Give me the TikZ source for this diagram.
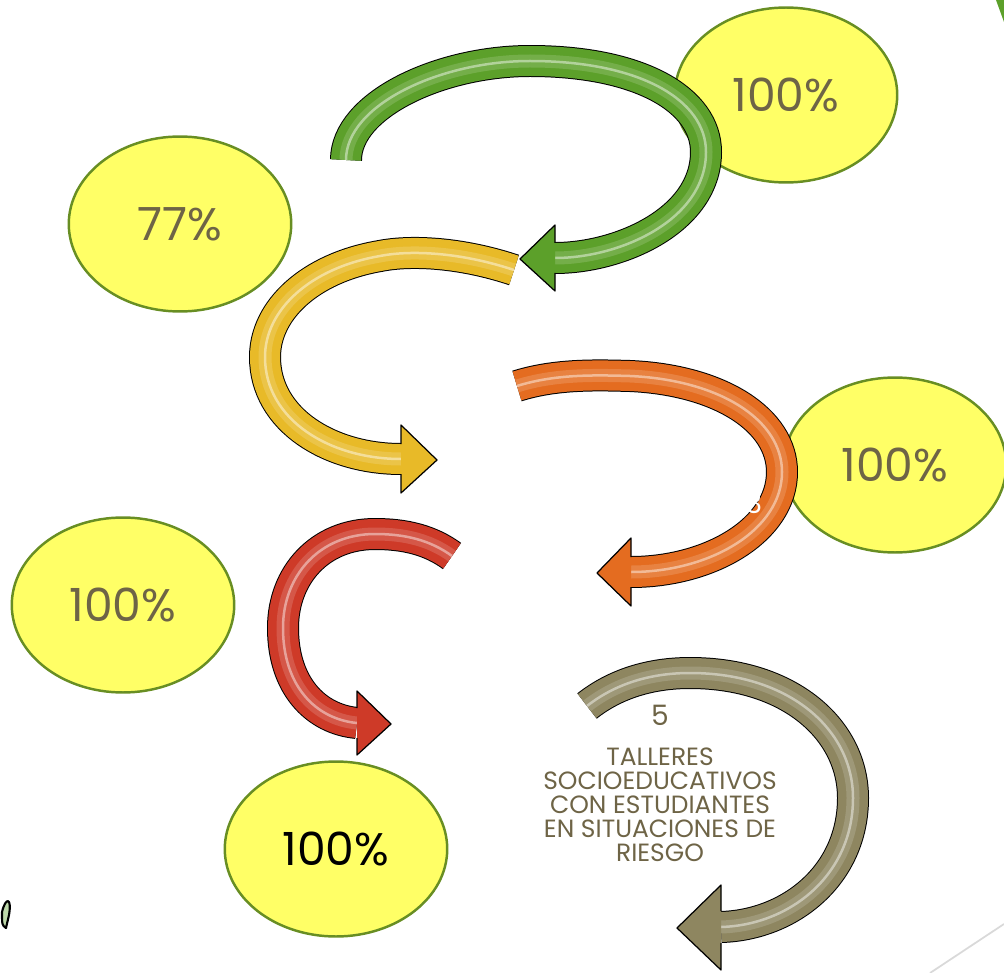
\documentclass[tikz,border=0pt]{standalone}
\usepackage{fontspec}
\setmainfont{Poppins}
\usepackage{tikz}
\usepackage{xcolor}
\usetikzlibrary{shapes.geometric}

\definecolor{pctfill}{RGB}{255,255,102}
\definecolor{pctrim}{RGB}{104,142,35}
\definecolor{pcttext}{RGB}{110,100,70}
\definecolor{arrgreen}{RGB}{92,160,42}
\definecolor{arryellow}{RGB}{232,186,40}
\definecolor{arrorange}{RGB}{228,108,32}
\definecolor{arrred}{RGB}{206,58,40}
\definecolor{arrolive}{RGB}{142,134,96}

\begin{document}
\begin{tikzpicture}[x=0.02cm, y=-0.02cm, line join=round,
	pct/.style={ellipse, draw=pctrim, line width=1.4pt, fill=pctfill, minimum width=4.45cm, minimum height=3.5cm, inner sep=0pt, text=pcttext, font=\fontsize{26}{30}\selectfont},
	band/.style={draw=#1, line width=0.6cm, preaction={draw=black, line width=0.64cm}, postaction={draw=#1!75!white, line width=0.26cm, opacity=0.6}, postaction={draw=white, line width=0.05cm, opacity=0.45}},
	head/.style={fill=#1, draw=black, line width=0.7pt}]
	\useasboundingbox (0,0) rectangle (1004,973);
		% percentages
		\node [pct] (e1) at (786,95) {100\%};
		\node [pct] (e2) at (180,224) {77\%};
		\node [pct] (e3) at (895,465) {100\%};
		\node [pct] (e4) at (123,605) {100\%};
		\node [pct, text=black] (e5) at (336,849) {100\%};
		% green
		\coordinate (1) at (346,160);
		\coordinate (2) at (555,258);
		\draw [band=arrgreen] (1) .. controls (346,105) and (440,61) .. (530,61) .. controls (640,61) and (706,100) .. (706,152) .. controls (706,220) and (620,258) .. (2);
		\filldraw [head=arrgreen] (555,243) -- (555,225) -- (520,259) -- (555,291) -- (555,273);
		% yellow
		\coordinate (3) at (514,270);
		\coordinate (4) at (401,459);
		\draw [band=arryellow] (3) .. controls (460,252) and (410,250) .. (380,256) .. controls (310,268) and (265,310) .. (265,357) .. controls (265,420) and (330,459) .. (4);
		\filldraw [head=arryellow] (401,444) -- (401,425) -- (437,460) -- (401,493) -- (401,474);
		% orange
		\coordinate (5) at (517,386);
		\coordinate (6) at (631,572);
		\draw [band=arrorange] (5) .. controls (555,374) and (595,375) .. (630,376) .. controls (720,380) and (782,420) .. (782,472) .. controls (782,530) and (710,572) .. (6);
		\filldraw [head=arrorange] (631,557) -- (631,538) -- (597,573) -- (631,606) -- (631,587);
		\node [white, font=\fontsize{16}{18}\selectfont] (7) at (754,503) {3};
		% red
		\coordinate (8) at (452,556);
		\coordinate (9) at (357,723);
		\draw [band=arrred] (8) .. controls (430,540) and (405,534) .. (375,534) .. controls (320,534) and (283,575) .. (283,628) .. controls (283,685) and (315,719) .. (9);
		\filldraw [head=arrred] (357,708) -- (357,691) -- (391,724) -- (357,755) -- (357,738);
		% olive
		\coordinate (10) at (587,706);
		\coordinate (11) at (721,927);
		\draw [band=arrolive] (10) .. controls (615,684) and (650,673) .. (690,673) .. controls (790,673) and (853,730) .. (853,798) .. controls (853,875) and (790,925) .. (11);
		\filldraw [head=arrolive] (721,911) -- (721,885) -- (677,928) -- (721,970) -- (721,943);
		\node [text=pcttext, font=\fontsize{16}{18}\selectfont] (12) at (660,715) {5};
		\node [text=pcttext, align=center, font=\fontsize{14.2}{13.6}\selectfont] (13) at (660,805) {TALLERES\\SOCIOEDUCATIVOS\\CON ESTUDIANTES\\EN SITUACIONES DE\\RIESGO};
		% edges of the slide
		\draw [black!15, line width=1pt] (930,973) -- (1004,924);
		\fill [arrgreen] (996,0) -- (1004,0) -- (1004,22) -- cycle;
		\draw [black, line width=1.2pt, fill=arrgreen!40] (2,912) .. controls (6,896) and (12,898) .. (9,915) -- (6,928) .. controls (2,925) .. (2,912);
    \end{tikzpicture}
\end{document}
